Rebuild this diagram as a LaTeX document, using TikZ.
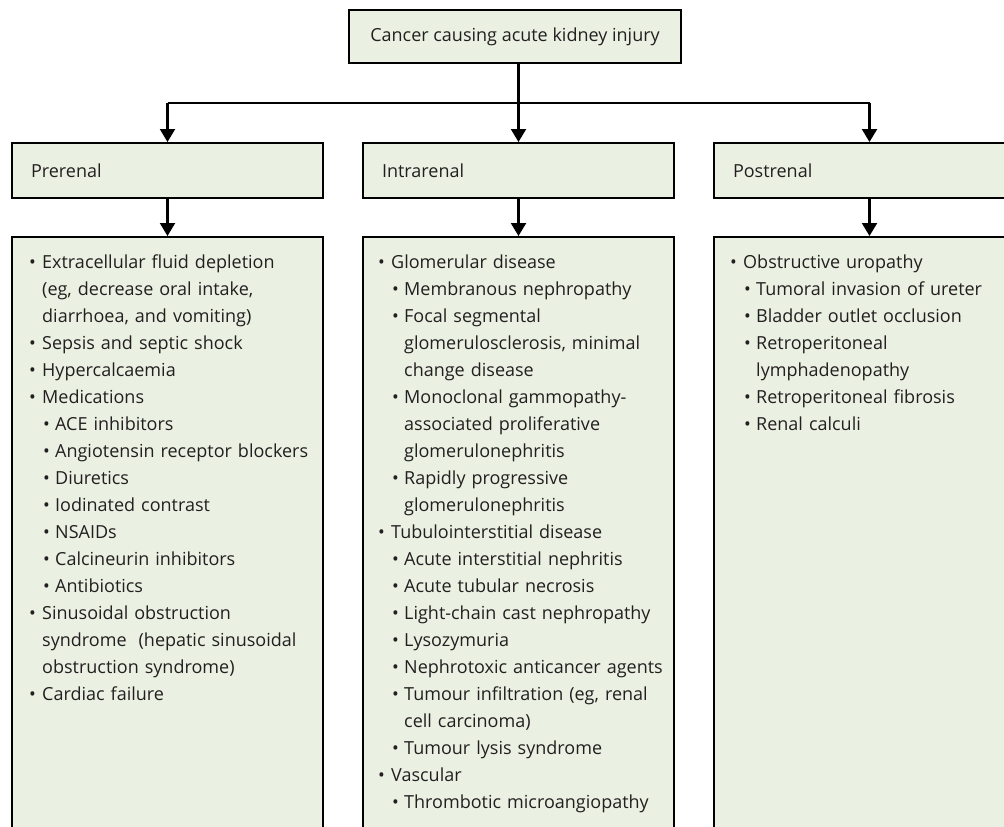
\documentclass[tikz,border=0pt]{standalone}
\usepackage{fontspec}
\setmainfont{Open Sans}
\usetikzlibrary{arrows.meta}
\definecolor{boxfill}{HTML}{EAF1E2}
\definecolor{ink}{HTML}{231F20}
\newcommand{\itm}[1]{\noindent\hangindent=13pt\hangafter=1\makebox[13pt][l]{\textbullet}#1\par}
\newcommand{\subitm}[1]{\noindent\hangindent=26pt\hangafter=1\hspace*{14pt}\makebox[12pt][l]{\textbullet}#1\par}
\begin{document}
\begin{tikzpicture}[x=1pt,y=-1pt,>={Triangle[length=13pt,width=15pt]},
  font=\fontsize{18}{27}\selectfont,text=ink,
  box/.style={draw=black,line width=2pt,fill=boxfill},
  head/.style={box,anchor=north west,minimum height=55pt,text width=273pt,inner xsep=19pt,align=left},
  listbox/.style={box,anchor=north west,minimum width=311pt,minimum height=700pt},
  listtext/.style={anchor=base west,inner sep=0pt,text width=330pt,align=left}]
\useasboundingbox (0,0) rectangle (1004,827);
\clip (0,0) rectangle (1004,827);

\node[box,minimum width=332pt,minimum height=53pt] (top) at (515,36.5) {Cancer causing acute kidney injury};

\node[head] (pre) at (11,142) {Prerenal};
\node[head] (intra) at (362,142) {Intrarenal};
\node[head] (post) at (713,142) {Postrenal};

\node[listbox] (prebox) at (11,236) {};
\node[listbox] (intrabox) at (362,236) {};
\node[listbox] (postbox) at (713,236) {};

% lists
\node[listtext] (pretext) at (29,268) {%
\itm{Extracellular fluid depletion\newline (eg, decrease oral intake,\newline diarrhoea, and vomiting)}
\itm{Sepsis and septic shock}
\itm{Hypercalcaemia}
\itm{Medications}
\subitm{ACE inhibitors}
\subitm{Angiotensin receptor blockers}
\subitm{Diuretics}
\subitm{Iodinated contrast}
\subitm{NSAIDs}
\subitm{Calcineurin inhibitors}
\subitm{Antibiotics}
\itm{Sinusoidal obstruction\newline syndrome~ (hepatic sinusoidal\newline obstruction syndrome)}
\itm{Cardiac failure}};

\node[listtext] (intratext) at (378,268) {%
\itm{Glomerular disease}
\subitm{Membranous nephropathy}
\subitm{Focal segmental\newline glomerulosclerosis, minimal\newline change disease}
\subitm{Monoclonal gammopathy-\newline associated proliferative\newline glomerulonephritis}
\subitm{Rapidly progressive\newline glomerulonephritis}
\itm{Tubulointerstitial disease}
\subitm{Acute interstitial nephritis}
\subitm{Acute tubular necrosis}
\subitm{Light-chain cast nephropathy}
\subitm{Lysozymuria}
\subitm{Nephrotoxic anticancer agents}
\subitm{Tumour infiltration (eg, renal\newline cell carcinoma)}
\subitm{Tumour lysis syndrome}
\itm{Vascular}
\subitm{Thrombotic microangiopathy}};

\node[listtext] (posttext) at (730,268) {%
\itm{Obstructive uropathy}
\subitm{Tumoral invasion of ureter}
\subitm{Bladder outlet occlusion}
\subitm{Retroperitoneal\newline lymphadenopathy}
\subitm{Retroperitoneal fibrosis}
\subitm{Renal calculi}};

% connectors
\coordinate (hub) at (intra.north |- 0,103);
\draw[line width=2.2pt] (top.south -| hub) -- (hub);
\draw[line width=2pt] (hub -| pre) -- (hub -| post);
\draw[->,line width=2.2pt] (hub -| pre) -- (pre);
\draw[->,line width=2.2pt] (hub) -- (intra);
\draw[->,line width=2.2pt] (hub -| post) -- (post);

\draw[->,line width=2.2pt] (pre) -- (prebox);
\draw[->,line width=2.2pt] (intra) -- (intrabox);
\draw[->,line width=2.2pt] (post) -- (postbox);
\end{tikzpicture}
\end{document}
